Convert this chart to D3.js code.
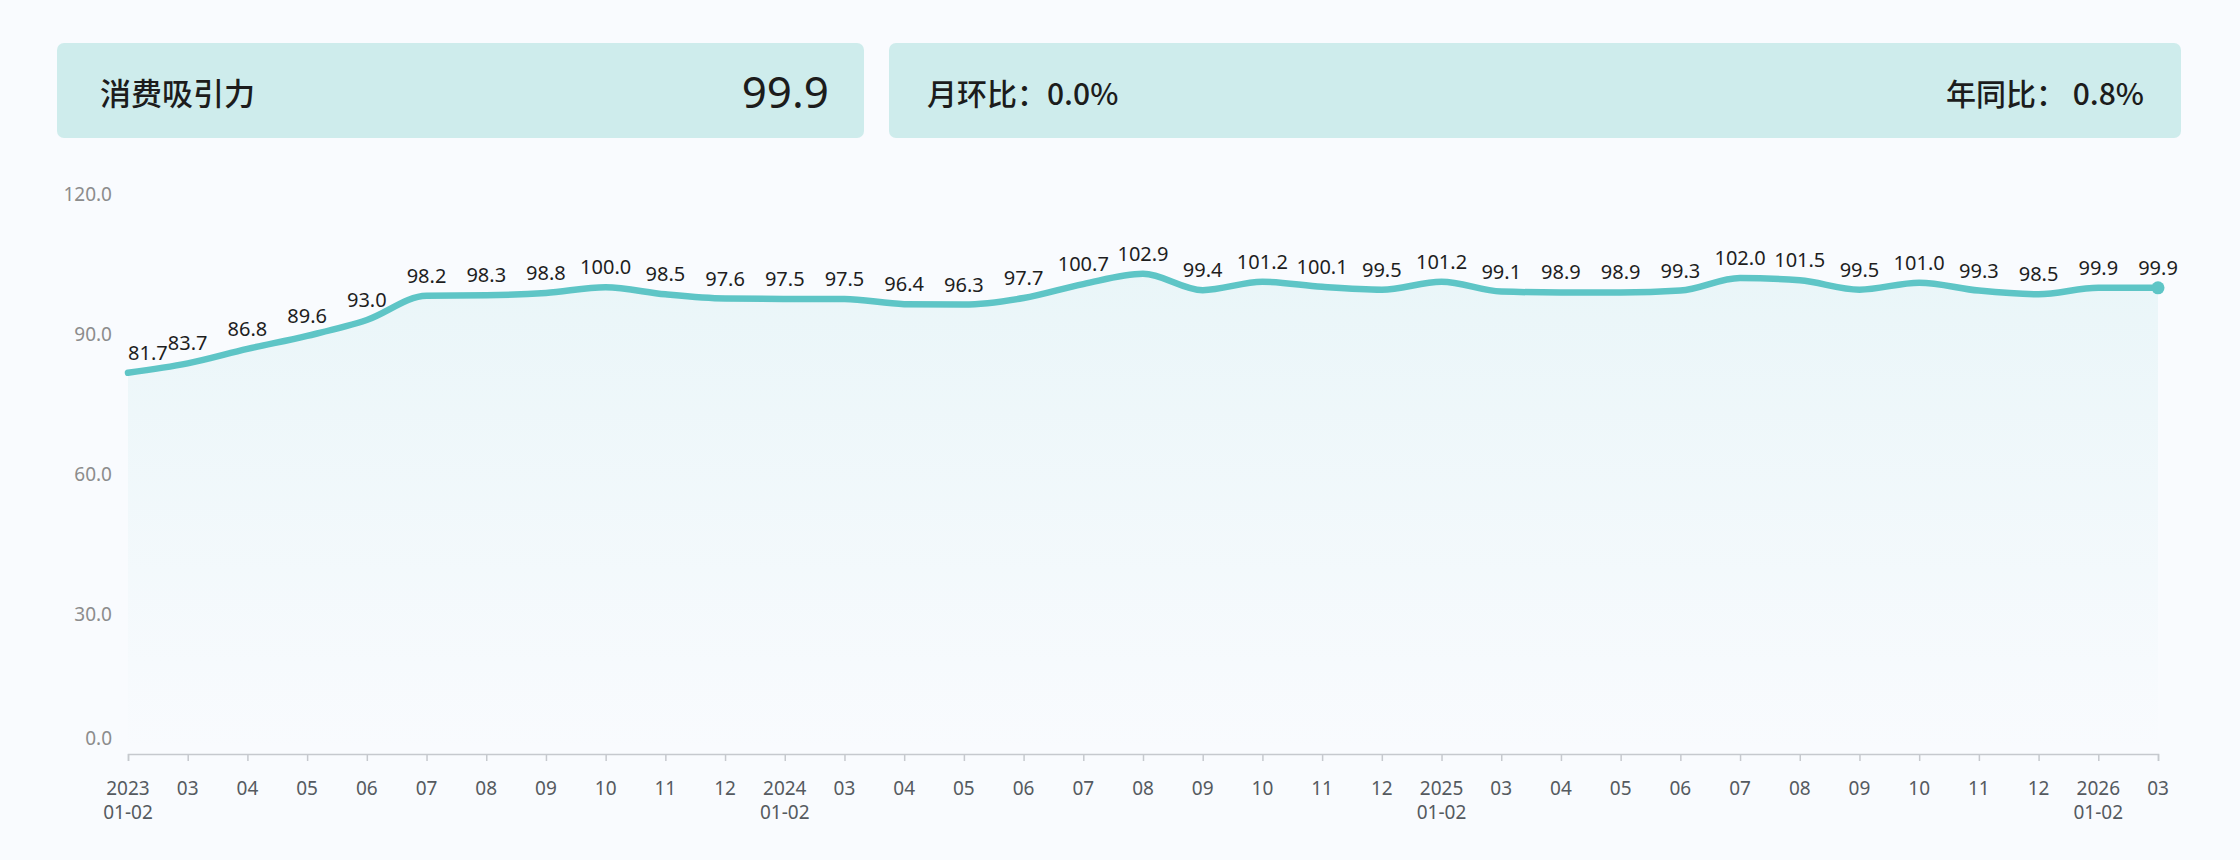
<!DOCTYPE html>
<html>
<head>
<meta charset="utf-8">
<script src="https://cdn.jsdelivr.net/npm/d3@7"></script>
<style>
  html, body { margin: 0; padding: 0; background: #f9fbfe; }
  svg { display: block; }
</style>
</head>
<body>
<svg id="chart"></svg>
<script>
// card texts
const cardTitle = "消费吸引力";
const cardValue = "99.9";
const momText = "月环比：0.0%";
const yoyText = "年同比： 0.8%";

// periods (year shown above the merged 01-02 month)
const years = ["2023", "", "", "", "", "", "", "", "", "", "",
               "2024", "", "", "", "", "", "", "", "", "", "",
               "2025", "", "", "", "", "", "", "", "", "", "",
               "2026", ""];
const months = ["01-02", "03", "04", "05", "06", "07", "08", "09", "10", "11", "12",
                "01-02", "03", "04", "05", "06", "07", "08", "09", "10", "11", "12",
                "01-02", "03", "04", "05", "06", "07", "08", "09", "10", "11", "12",
                "01-02", "03"];
const values = [81.7, 83.7, 86.8, 89.6, 93.0, 98.2, 98.3, 98.8, 100.0, 98.5, 97.6,
                97.5, 97.5, 96.4, 96.3, 97.7, 100.7, 102.9, 99.4, 101.2, 100.1, 99.5,
                101.2, 99.1, 98.9, 98.9, 99.3, 102.0, 101.5, 99.5, 101.0, 99.3, 98.5,
                99.9, 99.9];
const yTicks = [0, 30, 60, 90, 120];

const width = 2240, height = 860;
const teal = "#5ec5c6";
const cjk = "'Noto Sans CJK SC', 'Noto Sans', sans-serif";
const num = "'Noto Sans', 'Open Sans', sans-serif";

const svg = d3.select("#chart").attr("width", width).attr("height", height);
svg.append("rect").attr("width", width).attr("height", height).attr("fill", "#f9fbfe");

// ---- header cards
svg.append("rect")
   .attr("x", 57).attr("y", 43).attr("width", 807).attr("height", 95)
   .attr("rx", 7).attr("fill", "#ceecec");
svg.append("rect")
   .attr("x", 889).attr("y", 43).attr("width", 1292).attr("height", 95)
   .attr("rx", 7).attr("fill", "#ceecec");

svg.append("text")
   .attr("x", 100).attr("y", 105)
   .attr("font-family", cjk).attr("font-size", 31).attr("font-weight", 500)
   .attr("fill", "#1c1c1c")
   .text(cardTitle);
svg.append("text")
   .attr("x", 829).attr("y", 108).attr("text-anchor", "end")
   .attr("font-family", num).attr("font-size", 44)
   .attr("fill", "#1c1c1c")
   .text(cardValue);
svg.append("text")
   .attr("x", 927).attr("y", 105)
   .attr("font-family", cjk).attr("font-size", 30).attr("font-weight", 500)
   .attr("fill", "#1c1c1c")
   .text(momText);
svg.append("text")
   .attr("x", 2144).attr("y", 105).attr("text-anchor", "end")
   .attr("font-family", cjk).attr("font-size", 30).attr("font-weight", 500)
   .attr("fill", "#1c1c1c")
   .attr("xml:space", "preserve")
   .text(yoyText);

// ---- scales
const idx = d3.range(values.length);
const x = d3.scalePoint().domain(idx).range([128, 2158]);
const y = d3.scaleLinear().domain([0, 120]).range([754, 194]);

// area gradient
const defs = svg.append("defs");
const grad = defs.append("linearGradient")
   .attr("id", "areaGrad")
   .attr("gradientUnits", "userSpaceOnUse")
   .attr("x1", 0).attr("x2", 0).attr("y1", y(103)).attr("y2", y(0));
grad.append("stop").attr("offset", 0).attr("stop-color", teal).attr("stop-opacity", 0.1);
grad.append("stop").attr("offset", 1).attr("stop-color", teal).attr("stop-opacity", 0.0);

const area = d3.area()
   .x(i => x(i)).y0(y(0)).y1(i => y(values[i]))
   .curve(d3.curveMonotoneX);
const line = d3.line()
   .x(i => x(i)).y(i => y(values[i]))
   .curve(d3.curveMonotoneX);

svg.append("path").datum(idx).attr("d", area).attr("fill", "url(#areaGrad)");

// ---- y axis labels (no axis line)
svg.selectAll(".ylab")
   .data(yTicks).enter()
   .append("text")
   .attr("class", "ylab")
   .attr("x", 112)
   .attr("y", d => d === 0 ? y(d) - 16 : y(d))
   .attr("dy", "0.35em")
   .attr("text-anchor", "end")
   .attr("font-family", num).attr("font-size", 19)
   .attr("fill", "#8c8c8c")
   .text(d => d3.format(".1f")(d));

// ---- x axis
const xAxis = d3.axisBottom(x).tickSize(7).tickFormat("");
const gx = svg.append("g").attr("transform", `translate(0, ${y(0)})`).call(xAxis);
gx.select(".domain").attr("stroke", "#c6c9ce").attr("stroke-width", 1.5);
gx.selectAll(".tick line").attr("stroke", "#c6c9ce").attr("stroke-width", 1.5);

const xl = svg.selectAll(".xlab")
   .data(idx).enter()
   .append("text")
   .attr("class", "xlab")
   .attr("x", i => x(i))
   .attr("text-anchor", "middle")
   .attr("font-family", num).attr("font-size", 19)
   .attr("fill", "#555a60");
xl.append("tspan")
   .attr("x", i => x(i)).attr("y", 795)
   .text(i => years[i] ? years[i] : months[i]);
xl.filter(i => years[i])
   .append("tspan")
   .attr("x", i => x(i)).attr("y", 819)
   .text(i => months[i]);

// ---- line + end point
svg.append("path").datum(idx)
   .attr("d", line)
   .attr("fill", "none")
   .attr("stroke", teal)
   .attr("stroke-width", 6.5)
   .attr("stroke-linecap", "round")
   .attr("stroke-linejoin", "round");

svg.append("circle")
   .attr("cx", x(values.length - 1)).attr("cy", y(values[values.length - 1]))
   .attr("r", 6.5).attr("fill", teal);

// ---- data labels
svg.selectAll(".vlab")
   .data(idx).enter()
   .append("text")
   .attr("class", "vlab")
   .attr("x", i => x(i))
   .attr("y", i => y(values[i]) - 13)
   .attr("text-anchor", i => i === 0 ? "start" : "middle")
   .attr("font-family", num).attr("font-size", 20)
   .attr("fill", "#1e1e1e")
   .text(i => d3.format(".1f")(values[i]));
</script>
</body>
</html>
